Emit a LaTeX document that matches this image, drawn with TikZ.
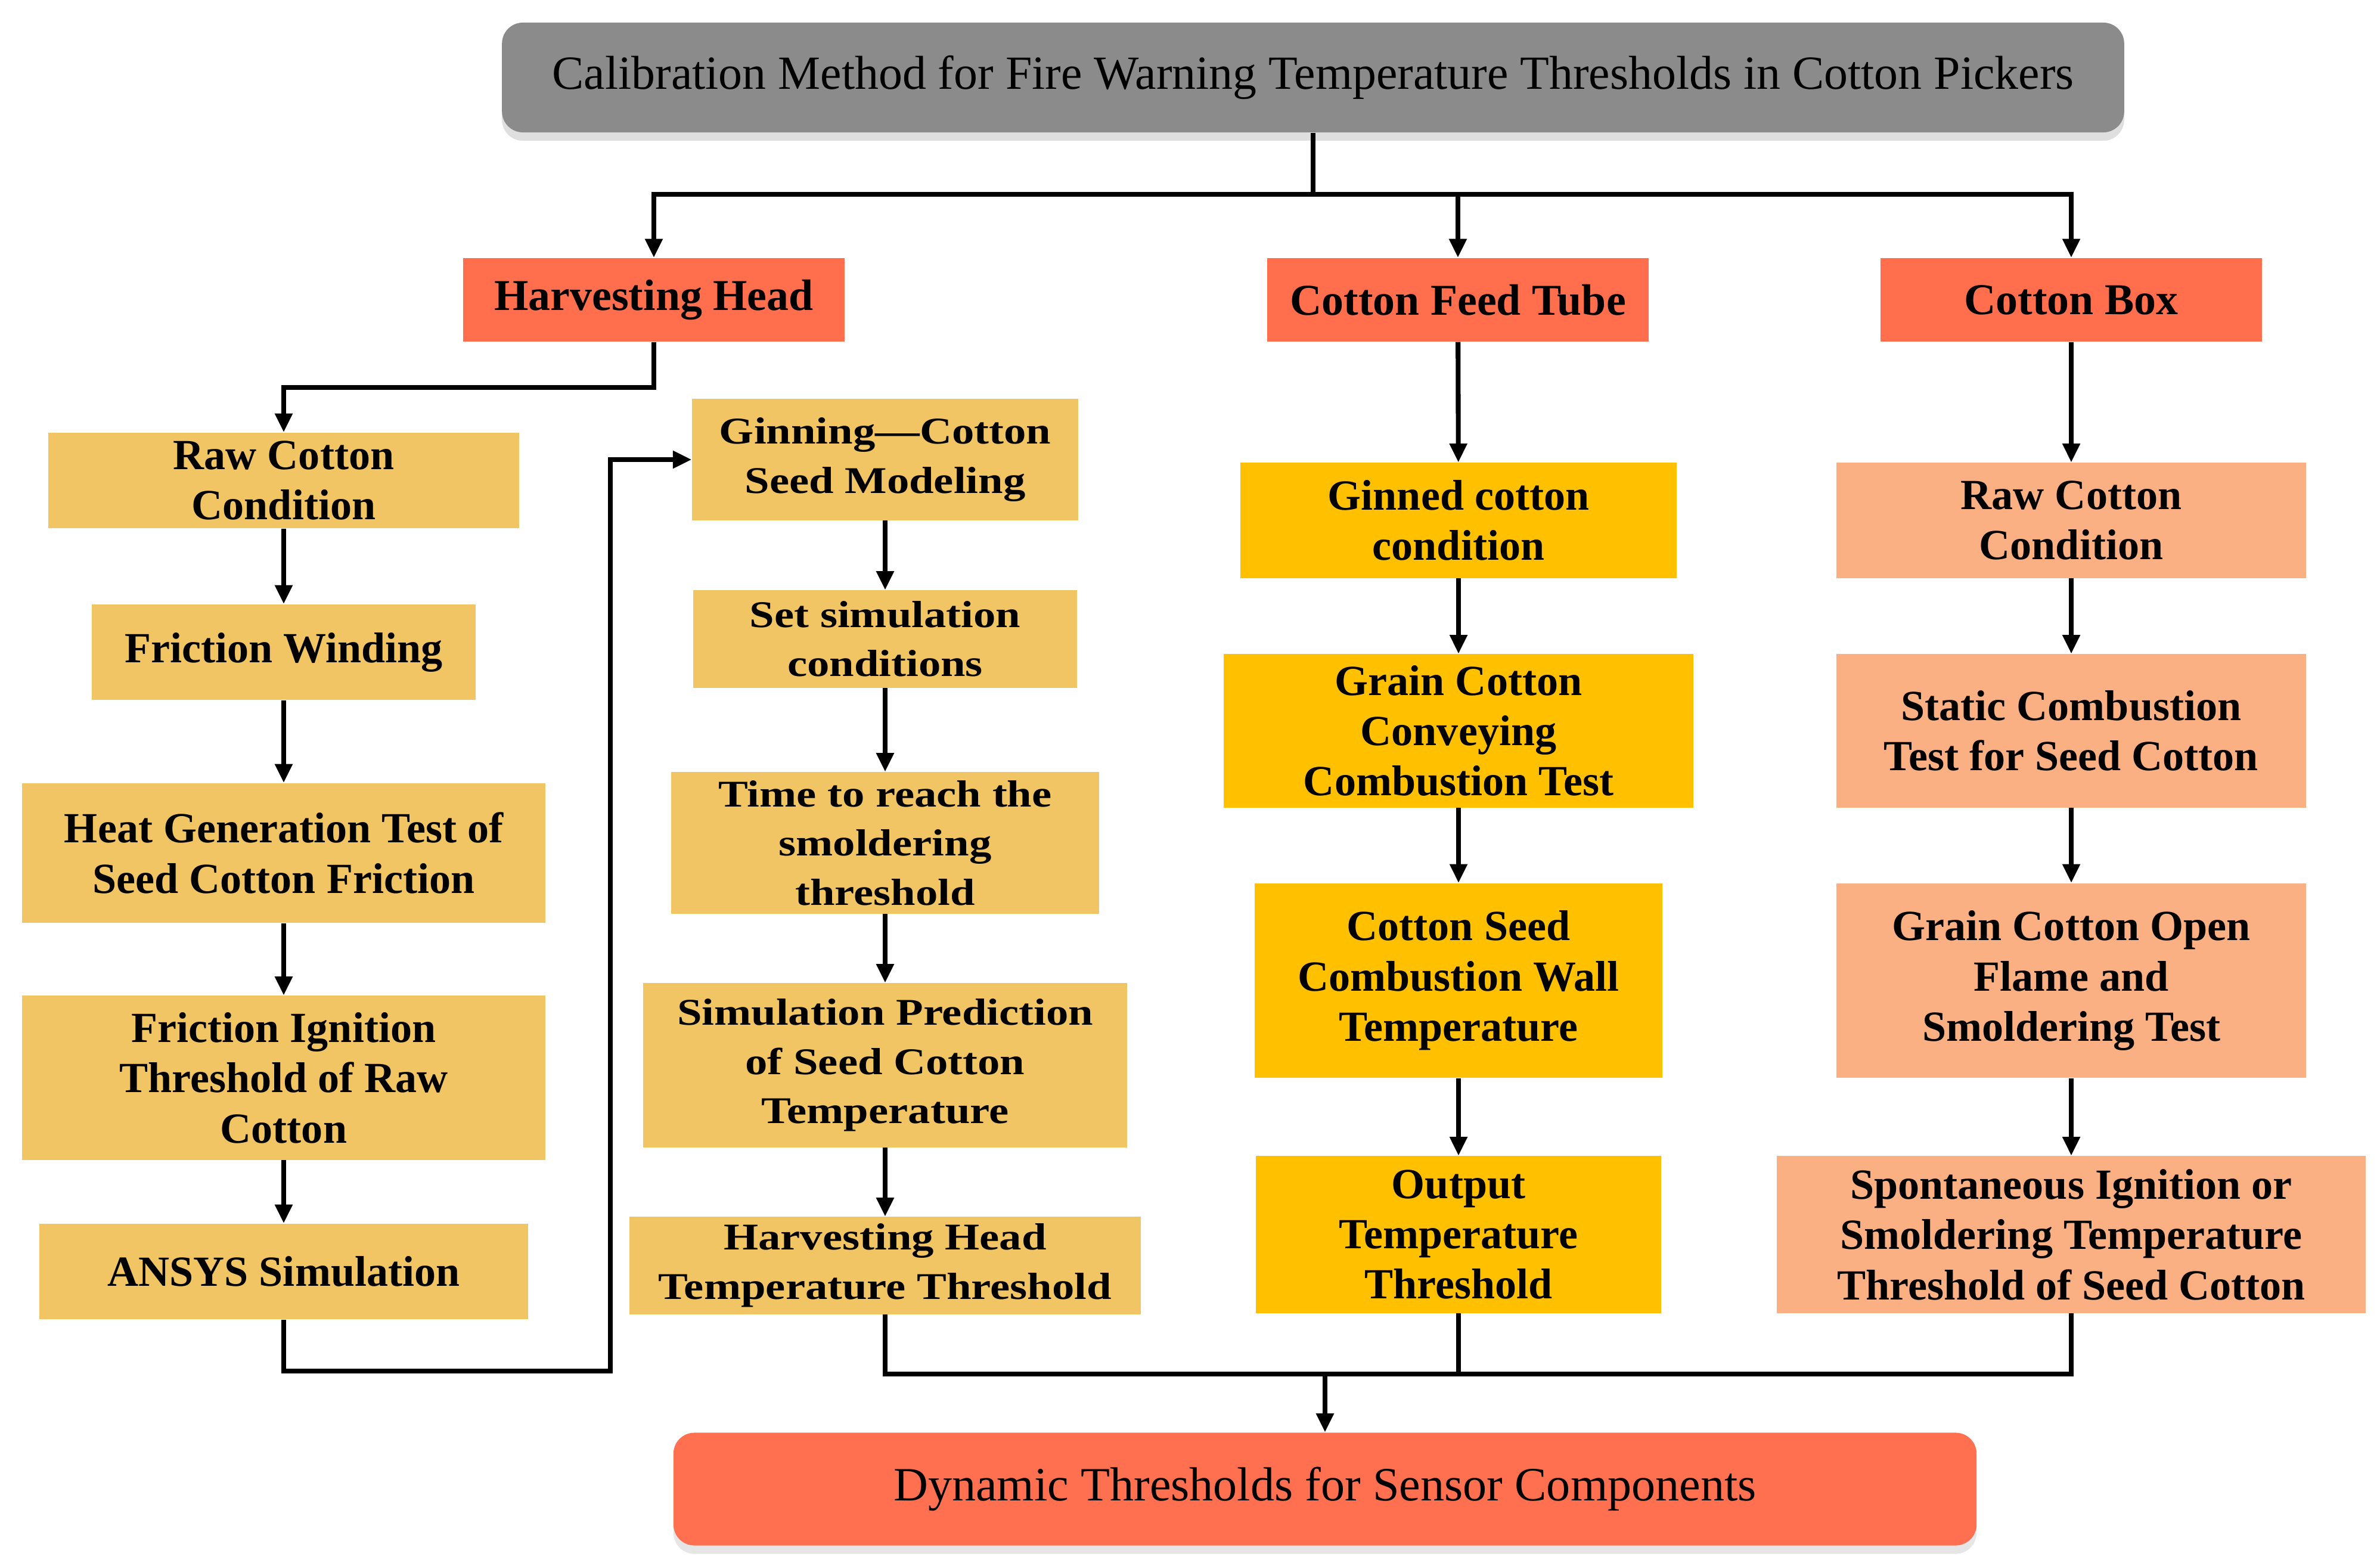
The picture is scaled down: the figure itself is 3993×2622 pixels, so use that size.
\documentclass[tikz,border=0pt]{standalone}
\usepackage{fontspec}
\setmainfont{Liberation Serif}
\newfontfamily\widefont[FakeStretch=1.18]{Liberation Serif}
\usetikzlibrary{arrows.meta,shadows}
\definecolor{titlegray}{RGB}{139,139,139}
\definecolor{hdrred}{RGB}{255,111,77}
\definecolor{botred}{RGB}{255,112,80}
\definecolor{lightor}{RGB}{242,197,100}
\definecolor{feedor}{RGB}{255,192,0}
\definecolor{salmon}{RGB}{250,176,130}
\begin{document}
\begin{tikzpicture}[x=0.01cm,y=-0.01cm,
  base/.style={align=center, inner sep=0pt, draw=none},
  lbox/.style={base, fill=lightor, font=\fontsize{20.5}{24}\selectfont\bfseries},
  wbox/.style={base, fill=lightor, font=\widefont\fontsize{18}{23.5}\selectfont\bfseries},
  fbox/.style={base, fill=feedor, font=\fontsize{20.5}{24}\selectfont\bfseries},
  cbox/.style={base, fill=salmon, font=\fontsize{20.5}{24}\selectfont\bfseries},
  hdr/.style={base, fill=hdrred, minimum width=6.39cm, minimum height=1.40cm, font=\fontsize{21}{25}\selectfont\bfseries},
  ln/.style={draw, line width=2.3pt},
  arr/.style={ln, -{Triangle[length=9pt,width=8pt]}},
  ]
\useasboundingbox (0,0) rectangle (3993,2622);

% title and bottom
\node[base, fill=titlegray, rounded corners=0.35cm, minimum width=27.20cm, minimum height=1.84cm,
      drop shadow={shadow xshift=0pt, shadow yshift=-4pt, opacity=0.25},
      font=\fontsize{22.7}{26}\selectfont] (title) at (2203,130)
  {Calibration Method for Fire Warning Temperature Thresholds in Cotton Pickers};
\node[base, fill=botred, rounded corners=0.35cm, minimum width=21.85cm, minimum height=1.89cm,
      drop shadow={shadow xshift=0pt, shadow yshift=-4pt, opacity=0.2},
      font=\fontsize{22.8}{26}\selectfont] (bottom) at (2223,2498)
  {Dynamic Thresholds for Sensor Components};

% headers
\node[hdr] (hh)  at (1097,503) {Harvesting Head};
\node[hdr] (cft) at (2446,503) {Cotton Feed Tube};
\node[hdr] (cb)  at (3475,503) {Cotton Box};

% left column
\node[lbox, minimum width=7.89cm, minimum height=1.60cm] (lc1) at (476,806) {Raw Cotton\\Condition};
\node[lbox, minimum width=6.44cm, minimum height=1.60cm] (lc2) at (476,1094) {Friction Winding};
\node[lbox, minimum width=8.78cm, minimum height=2.34cm] (lc3) at (476,1431) {Heat Generation Test of\\Seed Cotton Friction};
\node[lbox, minimum width=8.78cm, minimum height=2.75cm] (lc4) at (476,1808) {Friction Ignition\\Threshold of Raw\\Cotton};
\node[lbox, minimum width=8.20cm, minimum height=1.60cm] (lc5) at (476,2133) {ANSYS Simulation};

% middle column
\node[wbox, minimum width=6.47cm, minimum height=2.03cm] (mc1) at (1485,771) {Ginning—Cotton\\Seed Modeling};
\node[wbox, minimum width=6.44cm, minimum height=1.63cm] (mc2) at (1485,1072) {Set simulation\\conditions};
\node[wbox, minimum width=7.18cm, minimum height=2.37cm] (mc3) at (1485,1414) {Time to reach the\\smoldering\\threshold};
\node[wbox, minimum width=8.12cm, minimum height=2.75cm] (mc4) at (1485,1787) {Simulation Prediction\\of Seed Cotton\\Temperature};
\node[wbox, minimum width=8.58cm, minimum height=1.63cm] (mc5) at (1485,2123) {Harvesting Head\\Temperature Threshold};

% feed tube column
\node[fbox, minimum width=7.31cm, minimum height=1.93cm] (fc1) at (2447,873) {Ginned cotton\\condition};
\node[fbox, minimum width=7.87cm, minimum height=2.57cm] (fc2) at (2447,1226) {Grain Cotton\\Conveying\\Combustion Test};
\node[fbox, minimum width=6.83cm, minimum height=3.26cm] (fc3) at (2447,1645) {Cotton Seed\\Combustion Wall\\Temperature};
\node[fbox, minimum width=6.80cm, minimum height=2.63cm] (fc4) at (2447,2071) {Output\\Temperature\\Threshold};

% cotton box column
\node[cbox, minimum width=7.87cm, minimum height=1.93cm] (bc1) at (3475,873) {Raw Cotton\\Condition};
\node[cbox, minimum width=7.87cm, minimum height=2.57cm] (bc2) at (3475,1226) {Static Combustion\\Test for Seed Cotton};
\node[cbox, minimum width=7.87cm, minimum height=3.26cm] (bc3) at (3475,1645) {Grain Cotton Open\\Flame and\\Smoldering Test};
\node[cbox, minimum width=9.88cm, minimum height=2.63cm] (bc4) at (3475,2071) {Spontaneous Ignition or\\Smoldering Temperature\\Threshold of Seed Cotton};

% top distribution
\coordinate (j1) at (2203,326);
\draw[ln] (title.south) -- (j1);
\draw[arr] (j1) -| (hh.north);
\draw[arr] (j1) -| (cft.north);
\draw[arr] (j1) -| (cb.north);

% harvesting head branch
\draw[arr] (hh.south) -- ++(0,76) -| (lc1.north);
\draw[arr] (lc1) -- (lc2);
\draw[arr] (lc2) -- (lc3);
\draw[arr] (lc3) -- (lc4);
\draw[arr] (lc4) -- (lc5);
\coordinate (b1) at (1024,2300);
\draw[arr] (lc5.south) |- (b1) |- (mc1.west);
\draw[arr] (mc1) -- (mc2);
\draw[arr] (mc2) -- (mc3);
\draw[arr] (mc3) -- (mc4);
\draw[arr] (mc4) -- (mc5);

% feed tube branch
\draw[arr] (cft) -- (fc1);
\draw[arr] (fc1) -- (fc2);
\draw[arr] (fc2) -- (fc3);
\draw[arr] (fc3) -- (fc4);

% cotton box branch
\draw[arr] (cb) -- (bc1);
\draw[arr] (bc1) -- (bc2);
\draw[arr] (bc2) -- (bc3);
\draw[arr] (bc3) -- (bc4);

% merge
\coordinate (m) at (2223,2305);
\draw[ln] (mc5.south) |- (m);
\draw[ln] (fc4.south) |- (m);
\draw[ln] (bc4.south) |- (m);
\draw[arr] (m) -- (m |- bottom.north);
\end{tikzpicture}
\end{document}
